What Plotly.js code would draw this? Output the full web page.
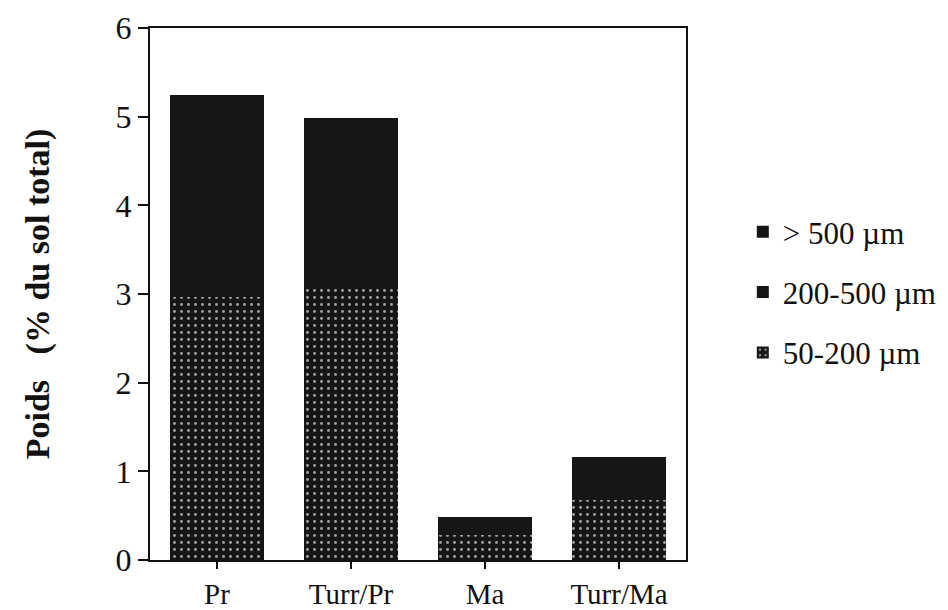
<!DOCTYPE html>
<html>
<head>
<meta charset="utf-8">
<script src="https://cdn.plot.ly/plotly-3.0.1.min.js"></script>
<style>html,body{margin:0;padding:0;background:#fff;}</style>
</head>
<body>
<div id="chart" style="width:948px;height:610px;"></div>
<script>
const categories = ["Pr", "Turr/Pr", "Ma", "Turr/Ma"];
const fine = [2.97, 3.10, 0.28, 0.68];      // 50-200 µm
const medium = [1.27, 0.98, 0.12, 0.28];    // 200-500 µm
const coarse = [1.00, 0.90, 0.08, 0.20];    // > 500 µm
const seriesNames = ["50-200 µm", "200-500 µm", "> 500 µm"];

const dark = "#161616";
const serif = "Liberation Serif, DejaVu Serif, serif";

function barTrace(y, name, patterned, group, rank) {
  const marker = {color: dark, line: {width: 0}};
  if (patterned) {
    marker.pattern = {shape: ".", bgcolor: dark, fgcolor: "#a0a0a0", size: 7, solidity: 0.14, fillmode: "replace"};
  }
  return {type: "bar", x: categories, y: y, name: name, marker: marker, width: 0.7,
          legendgroup: group, legendrank: rank, hoverinfo: "skip"};
}

const data = [
  barTrace(fine, seriesNames[0], true, "a", 3),
  barTrace(medium, seriesNames[1], false, "b", 2),
  barTrace(coarse, seriesNames[2], false, "c", 1)
];

const layout = {
  width: 948, height: 610,
  margin: {l: 150, r: 262, t: 28, b: 50, autoexpand: false},
  barmode: "stack",
  paper_bgcolor: "#fff", plot_bgcolor: "#fff",
  font: {family: serif, size: 32, color: "#111"},
  showlegend: true,
  legend: {x: 1.106, y: 0.667, xanchor: "left", yanchor: "top", traceorder: "grouped",
           tracegroupgap: 17, font: {family: serif, size: 31, color: "#111"}, bgcolor: "rgba(0,0,0,0)"},
  xaxis: {range: [-0.5, 3.5], showline: true, linecolor: "#111", linewidth: 2, mirror: true,
          ticks: "outside", ticklen: 7, tickwidth: 2, tickcolor: "#111", showgrid: false, zeroline: false,
          tickfont: {family: serif, size: 29, color: "#111"}},
  yaxis: {range: [0, 6], dtick: 1, showline: true, linecolor: "#111", linewidth: 2, mirror: true,
          ticks: "outside", ticklen: 10, tickwidth: 2, tickcolor: "#111", showgrid: false, zeroline: false,
          tickfont: {family: serif, size: 32, color: "#111"},
          title: {text: "<b>Poids   (% du sol total)</b>", standoff: 56, font: {family: serif, size: 34, color: "#111"}}}
};

Plotly.newPlot("chart", data, layout, {displayModeBar: false, staticPlot: true});
</script>
</body>
</html>
